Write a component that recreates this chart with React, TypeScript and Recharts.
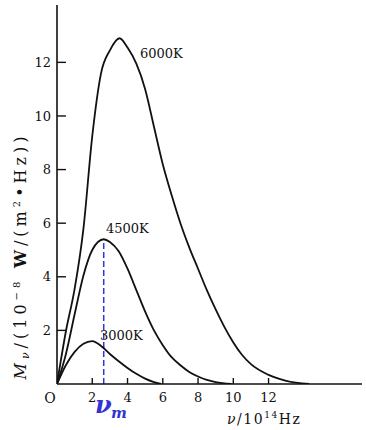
import { LineChart, Line, XAxis, YAxis, ReferenceLine } from "recharts";

// frequency nu (10^14 Hz) and spectral radiance M (10^-8 W/(m^2 Hz))
const nu6000 = [0, 0.5, 1, 1.5, 2, 2.5, 3, 3.55, 4, 4.5, 5, 5.5, 6, 6.5, 7, 7.5, 8, 8.5, 9, 9.5, 10, 10.5, 11, 12, 13, 14.3];
const m6000 = [0, 1.95, 3.55, 5.8, 9.25, 11.6, 12.45, 12.9, 12.55, 11.95, 11.0, 9.6, 8.2, 7.05, 6.0, 5.1, 4.3, 3.5, 2.78, 2.12, 1.55, 1.08, 0.74, 0.34, 0.12, 0];

const nu4500 = [0, 0.5, 1, 1.5, 2, 2.65, 3, 3.5, 4, 4.5, 5, 5.5, 6, 6.5, 7, 7.5, 8, 8.5, 9, 9.9];
const m4500 = [0, 1.1, 2.6, 4.05, 5.0, 5.4, 5.3, 4.95, 4.3, 3.5, 2.7, 2.0, 1.45, 1.0, 0.7, 0.45, 0.28, 0.15, 0.07, 0];

const nu3000 = [0, 0.5, 1, 1.5, 2, 2.5, 3, 3.5, 4, 4.5, 5, 5.5, 5.9];
const m3000 = [0, 0.7, 1.2, 1.5, 1.6, 1.42, 1.12, 0.85, 0.6, 0.38, 0.2, 0.07, 0];

const xTicks = [0, 2, 4, 6, 8, 10, 12];
const yTicks = [2, 4, 6, 8, 10, 12];

const peakNu = 2.65;
const peakM = 5.4;

const toRows = (nu: number[], m: number[]) => nu.map((v, i) => ({ nu: v, m: m[i] }));

const FONT = "'DejaVu Serif', serif";
const INK = "#111";
const BLUE = "#3434d4";

function YTick({ x, y, payload }: any) {
  return (
    <g>
      <line x1={x} x2={x + 9} y1={y} y2={y} stroke={INK} strokeWidth={1.4} />
      <text x={x - 6} y={y} dy="0.36em" textAnchor="end" fontSize={13} fontFamily={FONT} fill={INK}>
        {payload.value}
      </text>
    </g>
  );
}

function XTick({ x, y, payload }: any) {
  if (payload.value === 0) {
    return (
      <text x={x - 7} y={y + 9} dy="0.72em" textAnchor="middle" fontSize={14} fontFamily={FONT} fill={INK}>
        O
      </text>
    );
  }
  return (
    <g>
      <line x1={x} x2={x} y1={y} y2={y - 6} stroke={INK} strokeWidth={1.4} />
      <text x={x} y={y + 9} dy="0.72em" textAnchor="middle" fontSize={13} fontFamily={FONT} fill={INK}>
        {payload.value}
      </text>
    </g>
  );
}

export default function App() {
  return (
    <div style={{ position: "absolute", left: 0, top: 0, width: 366, height: 430, background: "#fff" }}>
      <LineChart width={366} height={430} margin={{ top: 5, right: 4, bottom: 0, left: 0 }}>
        <XAxis
          type="number"
          dataKey="nu"
          domain={[0, 17.3]}
          ticks={xTicks}
          allowDataOverflow
          height={46}
          tickSize={0}
          tickMargin={0}
          tickLine={false}
          tick={<XTick />}
          axisLine={{ stroke: INK, strokeWidth: 1.6 }}
        />
        <YAxis
          type="number"
          dataKey="m"
          domain={[0, 14.14]}
          ticks={yTicks}
          allowDataOverflow
          width={57}
          tickSize={0}
          tickMargin={0}
          tickLine={false}
          tick={<YTick />}
          axisLine={{ stroke: INK, strokeWidth: 1.6 }}
        />
        <ReferenceLine
          segment={[
            { x: peakNu, y: 0 },
            { x: peakNu, y: peakM },
          ]}
          stroke={BLUE}
          strokeWidth={1.5}
          strokeDasharray="6 3"
        />
        <Line data={toRows(nu6000, m6000)} dataKey="m" type="monotone" stroke={INK} strokeWidth={1.8} dot={false} isAnimationActive={false} />
        <Line data={toRows(nu4500, m4500)} dataKey="m" type="monotone" stroke={INK} strokeWidth={1.8} dot={false} isAnimationActive={false} />
        <Line data={toRows(nu3000, m3000)} dataKey="m" type="monotone" stroke={INK} strokeWidth={1.8} dot={false} isAnimationActive={false} />
      </LineChart>
      <svg width={366} height={430} style={{ position: "absolute", left: 0, top: 0, pointerEvents: "none" }}>
        <g fontFamily={FONT} fill={INK}>
          <text x={140} y={58} fontSize={13}>6000K</text>
          <text x={106} y={233} fontSize={13}>4500K</text>
          <text x={100} y={340} fontSize={13}>3000K</text>
          <text x={20} y={264} fontSize={16} textAnchor="middle" transform="rotate(-90 20 258)" textLength={243} lengthAdjust="spacing">
            <tspan fontStyle="italic">M</tspan>
            <tspan fontStyle="italic" fontSize={11} dy={3}>ν</tspan>
            <tspan dy={-3}>/(10</tspan>
            <tspan fontSize={10} dy={-6}>−8</tspan>
            <tspan dy={6} fontWeight="bold"> W</tspan>
            <tspan>/(m</tspan>
            <tspan fontSize={10} dy={-6}>2</tspan>
            <tspan dy={6}>•Hz))</tspan>
          </text>
          <text x={227} y={424} fontSize={14} textLength={73} lengthAdjust="spacing">
            <tspan fontStyle="italic">ν</tspan>
            <tspan>/10</tspan>
            <tspan fontSize={9} dy={-6}>14</tspan>
            <tspan dy={6}>Hz</tspan>
          </text>
        </g>
        <text x={95} y={413} fontSize={24} fontStyle="italic" fontWeight="bold" fill={BLUE} fontFamily={FONT}>ν</text>
        <text x={111} y={418} fontSize={15} fontStyle="italic" fontWeight="bold" fill={BLUE} fontFamily={FONT}>m</text>
      </svg>
    </div>
  );
}
